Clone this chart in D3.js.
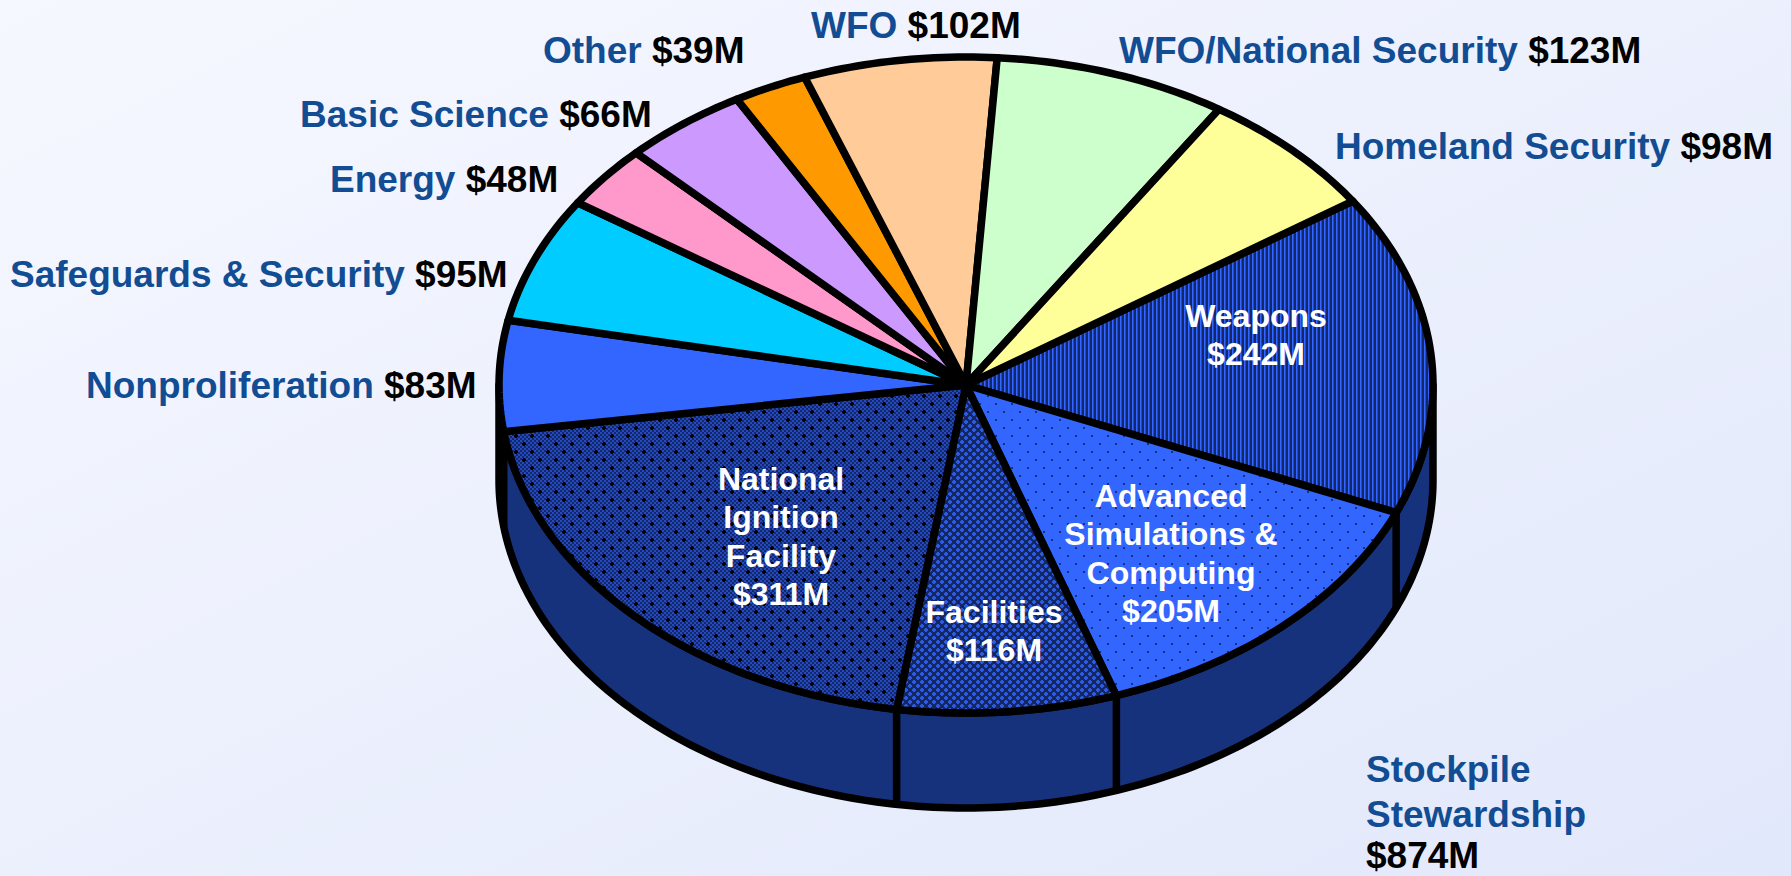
<!DOCTYPE html>
<html><head><meta charset="utf-8">
<script src="https://cdn.jsdelivr.net/npm/d3@7/dist/d3.min.js"></script>
<style>html,body{margin:0;padding:0;overflow:hidden;background:#eef1fe}svg{display:block}text{font-family:"Liberation Sans",Arial,sans-serif;font-weight:700}</style>
</head><body><div id="chart"></div>
<script>
const categories=["Weapons","Advanced Simulations & Computing","Facilities","National Ignition Facility","Nonproliferation","Safeguards & Security","Energy","Basic Science","Other","WFO","WFO/National Security","Homeland Security"];
const values=[242,205,116,311,83,95,48,66,39,102,123,98];
const valueLabels=["$242M","$205M","$116M","$311M","$83M","$95M","$48M","$66M","$39M","$102M","$123M","$98M"];
const fills=["url(#stripes)","url(#dots)","url(#lattice)","url(#checker)","#3366FF","#00CCFF","#FF99CC","#CC99FF","#FF9900","#FFCC99","#CCFFCC","#FFFF99"];
const outerLabels=[
 {name:"WFO",value:"$102M",x:811,y:38},
 {name:"Other",value:"$39M",x:543,y:63},
 {name:"WFO/National Security",value:"$123M",x:1119,y:63},
 {name:"Homeland Security",value:"$98M",x:1335,y:159},
 {name:"Basic Science",value:"$66M",x:300,y:127},
 {name:"Energy",value:"$48M",x:330,y:192},
 {name:"Safeguards & Security",value:"$95M",x:10,y:287},
 {name:"Nonproliferation",value:"$83M",x:86,y:398}];
const stockpileLines=["Stockpile","Stewardship"],stockpileValue="$874M";
const innerLabels=[
 {lines:["Weapons","$242M"],x:1256,y:327},
 {lines:["Advanced","Simulations &","Computing","$205M"],x:1171,y:507},
 {lines:["Facilities","$116M"],x:994,y:623},
 {lines:["National","Ignition","Facility","$311M"],x:781,y:490}];

const W=1791,H=876,cx=966,cy=385,rx=467,ry=328,depth=95,sw=7.5,startDeg=55.9;
const NAVY="#17327D",DARK="#12286A",BLUE="#3366FF",TEXTBLUE="#124D94";
const svg=d3.select("#chart").append("svg").attr("width",W).attr("height",H).attr("viewBox",[0,0,W,H]);
const defs=svg.append("defs");
const grad=defs.append("linearGradient").attr("id","bg").attr("x1","0").attr("y1","0").attr("x2","1").attr("y2","1");
grad.append("stop").attr("offset","0").attr("stop-color","#F6F8FF");
grad.append("stop").attr("offset","1").attr("stop-color","#E2E8FB");
function pat(id,w,h,bg){const p=defs.append("pattern").attr("id",id).attr("patternUnits","userSpaceOnUse").attr("width",w).attr("height",h).attr("shape-rendering","crispEdges");p.append("rect").attr("width",w).attr("height",h).attr("fill",bg);return p;}
const r=(p,x,y,w,h,f)=>p.append("rect").attr("x",x).attr("y",y).attr("width",w).attr("height",h).attr("fill",f);
// vertical stripes
let p=pat("stripes",4,4,DARK); r(p,0,0,1,4,BLUE); r(p,1,0,1,4,"#2449B8");
// staggered dots
p=pat("dots",16,16,BLUE);
[[3,3],[11,11]].forEach(([x,y])=>{r(p,x,y,2,2,NAVY);});
// diamond lattice
p=pat("lattice",8,8,DARK);
[[0,0],[4,4]].forEach(([x,y])=>{r(p,x+1,y,2,4,"#2C5AE0");r(p,x,y+1,4,2,"#2C5AE0");});
r(p,6,2,1,1,"#0b1a4d");r(p,2,6,1,1,"#0b1a4d");
// fine checker with plus marks
p=pat("checker",16,16,DARK);
d3.range(0,16,4).forEach(x=>d3.range(0,16,4).forEach(y=>{r(p,x,y,2,2,"#2448BE");r(p,x+2,y+2,2,2,"#2448BE");}));
[[3,3],[11,11]].forEach(([x,y])=>{r(p,x,y,2,2,"#000");r(p,x-1,y,4,2,"#000");r(p,x,y-1,2,4,"#000");});

const xs=d3.scaleLinear().domain([-1,1]).range([cx-rx,cx+rx]);
const ys=d3.scaleLinear().domain([-1,1]).range([cy-ry,cy+ry]);
const px=a=>xs(Math.sin(a)),py=a=>ys(-Math.cos(a));
const line=d3.line();
const deg=Math.PI/180;
function rim(a0,a1,dy=0){const n=Math.max(2,Math.ceil(Math.abs(a1-a0)/deg));return d3.range(n+1).map(i=>{const a=a0+(a1-a0)*i/n;return [px(a),py(a)+dy];});}

svg.append("rect").attr("width",W).attr("height",H).attr("fill","url(#bg)");

const pie=d3.pie().sort(null).startAngle(startDeg*deg).endAngle((startDeg+360)*deg);
const arcs=pie(values);

// side wall
const wall=[...rim(90*deg,270*deg),...rim(270*deg,90*deg,depth)];
const body=svg.append("g").attr("stroke","#000").attr("stroke-width",sw).attr("stroke-linejoin","round");
body.append("path").attr("d",line(wall)+"Z").attr("fill",NAVY);
// wall dividers
arcs.map(d=>d.endAngle).concat(arcs[0].startAngle).map(a=>((a%(2*Math.PI))+2*Math.PI)%(2*Math.PI)).filter(a=>a>90*deg&&a<270*deg)
 .forEach(a=>body.append("line").attr("x1",px(a)).attr("x2",px(a)).attr("y1",py(a)).attr("y2",py(a)+depth));
// top slices
body.selectAll("path.slice").data(arcs).join("path").attr("class","slice")
 .attr("fill",(d,i)=>fills[i])
 .attr("d",d=>line([[cx,cy],...rim(d.startAngle,d.endAngle)])+"Z");

// labels
const sz=37;
const gOut=svg.append("g").attr("font-size",sz);
gOut.selectAll("text").data(outerLabels).join("text").attr("x",d=>d.x).attr("y",d=>d.y)
 .each(function(d){const t=d3.select(this);t.append("tspan").attr("fill",TEXTBLUE).text(d.name+" ");t.append("tspan").attr("fill","#000").text(d.value);});
stockpileLines.forEach((s,i)=>gOut.append("text").attr("x",1366).attr("y",782+i*44.5).attr("fill",TEXTBLUE).text(s));
gOut.append("text").attr("x",1366).attr("y",868).attr("fill","#000").text(stockpileValue);
const gIn=svg.append("g").attr("font-size",32).attr("fill","#fff").attr("text-anchor","middle");
innerLabels.forEach(l=>l.lines.forEach((s,i)=>gIn.append("text").attr("x",l.x).attr("y",l.y+i*38.4).text(s)));
</script></body></html>
